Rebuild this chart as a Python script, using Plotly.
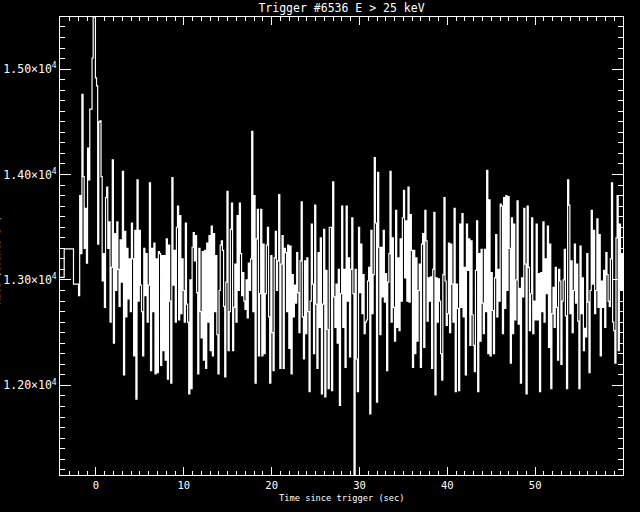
import plotly.graph_objects as go

# ---- data ----
title_text = "Trigger #6536 E > 25 keV"
x_label = "Time since trigger (sec)"
y_label = "Rate (counts s<sup>-1</sup>)"

# coarse pre-trigger bins (start times, rates)
pre_times = [-4.096, -3.62, -2.56]
pre_rates = [13025, 13294, 12960]

# fine bins after -1.984 s, 0.128 s wide (rows of 8 bins = 1.024 s)
fine_start = -1.984
fine_width = 0.128
fine_rates = [
    12850, 13800, 13250, 14760, 13980, 13300, 13680, 13160,
    14250, 13950, 14620, 14620, 15105, 15494, 15494, 14917,
    14840, 13340, 14500, 14510, 13980, 12990, 13250, 12740,
    13780, 13880, 13300, 13550, 12600, 13120, 14140, 12400,
    13440, 12900, 13550, 13100, 12750, 13380, 12980, 14030,
    12100, 13460, 12650, 13300, 12820, 13200, 12700, 13540,
    13200, 12280, 13470, 11870, 13950, 12800, 13470, 12950,
    12700, 12280, 13300, 12850, 13250, 12600, 12950, 13920,
    12140, 13300, 12700, 13350, 12110, 13200, 12120, 13270,
    13250, 12190, 13230, 12330, 13230, 12240, 13390, 12060,
    13330, 12800, 12020, 13970, 12950, 13280, 12600, 13500,
    13700, 12620, 13610, 12680, 13200, 12900, 12600, 13540,
    12770, 12600, 11920, 13000, 11970, 13310, 13450, 13180,
    13420, 12880, 12110, 13300, 12700, 12450, 13270, 12240,
    13280, 12160, 13350, 12600, 13420, 12330, 13510, 12280,
    13440, 12700, 13230, 12480, 12110, 12900, 13330, 13370,
    13280, 12750, 12080, 12980, 13840, 12330, 12700, 13480,
    13730, 12330, 12740, 13150, 12600, 13610, 12900, 13730,
    13250, 12850, 13070, 12800, 12720, 13000, 12640, 13160,
    12900, 13200, 14410, 12700, 13800, 12020, 13390, 13670,
    12280, 12870, 13670, 12280, 13340, 12300, 12870, 13330,
    13500, 12650, 12020, 13230, 12500, 12140, 13210, 13460,
    12900, 13180, 13810, 12160, 13150, 13420, 12160, 13300,
    13260, 12700, 13330, 12350, 13320, 12110, 13050, 12650,
    12950, 12780, 13260, 12880, 12500, 13180, 13740, 12650,
    12250, 13180, 12490, 13210, 12700, 11940, 12800, 13530,
    12960, 12300, 13710, 12770, 12160, 13260, 12550, 13400,
    11920, 12770, 13480, 11890, 13090, 12530, 11970, 13500,
    13500, 11950, 13930, 12840, 12550, 12960, 12400, 13100,
    11810, 12870, 13700, 12550, 13100, 12170, 13700, 12800,
    13210, 12270, 13100, 13590, 12870, 11150, 13100, 12250,
    11940, 13500, 12880, 13340, 12680, 13050, 12490, 12600,
    12620, 12990, 13120, 11730, 13470, 12680, 13050, 14160,
    13540, 11840, 14020, 13310, 12480, 13310, 12840, 13470,
    12790, 13060, 12140, 12980, 13250, 14030, 12600, 13400,
    12740, 12420, 13660, 12550, 13210, 12520, 13390, 12800,
    13590, 13850, 13020, 13560, 12800, 13880, 12790, 13620,
    13280, 12170, 13280, 12300, 13210, 12420, 12900, 13150,
    12170, 13340, 13440, 12360, 13660, 13370, 12610, 13020,
    12800, 13030, 12160, 13100, 13640, 11910, 13020, 12600,
    13010, 12800, 12300, 12050, 13050, 13780, 12990, 12570,
    12680, 13350, 12500, 13340, 12960, 12600, 13680, 11940,
    12960, 12730, 11950, 13530, 12740, 13630, 12650, 13120,
    12100, 13530, 13090, 13390, 12380, 13370, 12670, 12380,
    12130, 13090, 13560, 11940, 13250, 12420, 13290, 12780,
    12490, 13290, 12700, 14040, 12300, 13760, 12280, 13070,
    12710, 12300, 13020, 13430, 12650, 13100, 12800, 13720,
    13700, 12490, 13780, 12730, 13800, 12900, 13790, 13300,
    12210, 13590, 12490, 13530, 12620, 13000, 13750, 12580,
    12920, 12020, 13020, 12840, 13680, 13150, 11920, 13700,
    13120, 12520, 12870, 13590, 12490, 12800, 12620, 13530,
    12620, 13060, 11940, 13070, 12700, 13550, 12600, 13200,
    12870, 13510, 12360, 13340, 11970, 12680, 12930, 12550,
    13120, 12740, 12240, 13100, 12990, 12200, 12800, 13000,
    13290, 12660, 11970, 13950, 13710, 12680, 13180, 12500,
    12900, 13340, 12780, 13150, 12610, 11970, 13320, 12680,
    13020, 12330, 12540, 12460, 13250, 12790, 12120, 12900,
    13660, 12960, 13470, 12680, 12900, 13580, 12740, 13430,
    12280, 12990, 12740, 13090, 12550, 13260, 13050, 12800,
    12750, 13200, 13920, 12600, 12520, 12210, 13400, 13800,
    12330, 13530, 12900, 13250, 12900, 13000, 12900, 13000,
]

x_range = [-4.096, 60.0]
y_tickvals = [12000, 13000, 14000, 15000]
y_ticktext = ["1.20×10<sup>4</sup>", "1.30×10<sup>4</sup>",
              "1.40×10<sup>4</sup>", "1.50×10<sup>4</sup>"]
x_tickvals = [0, 10, 20, 30, 40, 50]
x_ticktext = ["0", "10", "20", "30", "40", "50"]

# ---- build trace ----
times = pre_times + [fine_start + i * fine_width for i in range(len(fine_rates))]
rates = pre_rates + fine_rates

fig = go.Figure()
fig.add_trace(go.Scatter(
    x=times, y=rates, mode="lines",
    line=dict(color="white", width=1.2, shape="hv"),
    hoverinfo="skip", showlegend=False,
))

mono = "DejaVu Sans Mono"

fig.update_layout(
    width=640, height=512,
    paper_bgcolor="black", plot_bgcolor="black",
    margin=dict(l=60, r=17, t=17, b=37, autoexpand=False),
    font=dict(family=mono, color="white", size=10),
    title=dict(text=title_text, x=0.5, xref="paper", xanchor="center",
               y=1 - 8 / 512, yref="container", yanchor="middle",
               font=dict(family=mono, size=11.5, color="white")),
    showlegend=False,
)

fig.update_xaxes(
    range=x_range, showgrid=False, zeroline=False, automargin=False,
    showline=True, linecolor="white", linewidth=1, mirror="ticks",
    ticks="inside", ticklen=8, tickwidth=1, tickcolor="white",
    tickmode="array", tickvals=x_tickvals, ticktext=x_ticktext,
    tickfont=dict(family=mono, size=10.5, color="white"),
    minor=dict(ticks="inside", ticklen=4, tickwidth=1, tickcolor="white",
               tickmode="linear", tick0=0, dtick=1, showgrid=False),
)
fig.update_yaxes(
    range=[min(rates), max(rates)], showgrid=False, zeroline=False, automargin=False,
    showline=True, linecolor="white", linewidth=1, mirror="ticks",
    ticks="inside", ticklen=11, tickwidth=1, tickcolor="white",
    tickmode="array", tickvals=y_tickvals, ticktext=y_ticktext,
    tickfont=dict(family=mono, size=11.5, color="white"),
    minor=dict(ticks="inside", ticklen=5, tickwidth=1, tickcolor="white",
               tickmode="linear", tick0=0, dtick=100, showgrid=False),
)

fig.add_annotation(text=x_label, xref="paper", yref="paper", x=0.5, y=-0.05,
                   xanchor="center", yanchor="middle", showarrow=False,
                   font=dict(family=mono, size=8.7, color="white"))
fig.add_annotation(text=y_label, xref="paper", yref="paper", x=-0.114, y=0.47,
                   xanchor="center", yanchor="middle", showarrow=False, textangle=-90,
                   font=dict(family=mono, size=9, color="white"))

fig.write_html(
    "out.html",
    config={"displayModeBar": False},
    post_script="document.body.style.margin='0';document.body.style.background='black';",
)
